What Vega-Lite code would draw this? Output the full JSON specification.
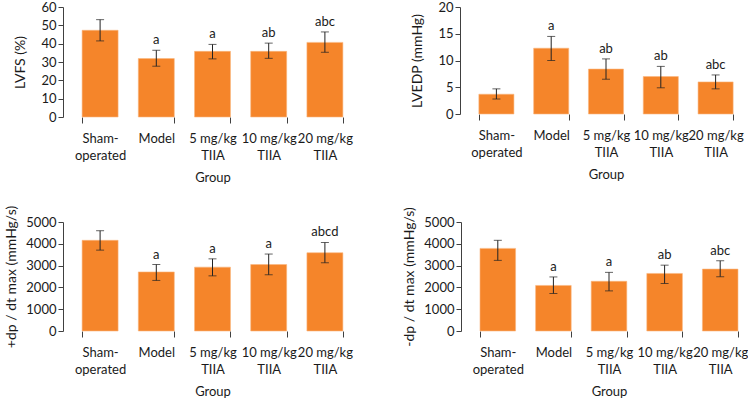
{
  "$schema": "https://vega.github.io/schema/vega-lite/v6.json",
  "background": "white",
  "padding": {"left": 4, "top": 1, "right": 0, "bottom": 0},
  "config": {
    "font": "Lato",
    "view": {"stroke": null},
    "axis": {"labelFont": "Lato", "titleFont": "Lato", "labelFontSize": 13, "titleFontSize": 13, "titleFontWeight": "normal", "labelColor": "#1a1a1a", "titleColor": "#1a1a1a", "domainColor": "#404040", "tickColor": "#404040", "grid": false},
    "axisX": {"labelAngle": 0, "labelExpr": "isValid(datum.value) ? split(datum.value, '|') : ''", "labelLineHeight": 17, "labelPadding": 9, "domain": false, "tickSize": 6, "tickBand": "extent", "titlePadding": 9, "tickColor": {"condition": {"test": "datum.value === 'Sham-|operated'", "value": "transparent"}, "value": "#404040"}},
    "axisY": {"tickSize": 5, "format": "d", "titleFontSize": 14}
  },
  "datasets": {
    "lvfs": [
      {"group": "Sham-|operated", "mean": 47.3, "lo": 41.5, "hi": 53.1, "sig": ""},
      {"group": "Model", "mean": 31.9, "lo": 27.7, "hi": 36.4, "sig": "a"},
      {"group": "5 mg/kg|TIIA", "mean": 35.8, "lo": 31.7, "hi": 39.6, "sig": "a"},
      {"group": "10 mg/kg|TIIA", "mean": 35.8, "lo": 32.0, "hi": 40.3, "sig": "ab"},
      {"group": "20 mg/kg|TIIA", "mean": 40.7, "lo": 35.3, "hi": 46.4, "sig": "abc"}
    ],
    "lvedp": [
      {"group": "Sham-|operated", "mean": 3.7, "lo": 2.8, "hi": 4.7, "sig": ""},
      {"group": "Model", "mean": 12.3, "lo": 10.0, "hi": 14.5, "sig": "a"},
      {"group": "5 mg/kg|TIIA", "mean": 8.4, "lo": 6.5, "hi": 10.3, "sig": "ab"},
      {"group": "10 mg/kg|TIIA", "mean": 7.0, "lo": 4.9, "hi": 8.9, "sig": "ab"},
      {"group": "20 mg/kg|TIIA", "mean": 6.0, "lo": 4.7, "hi": 7.3, "sig": "abc"}
    ],
    "plus": [
      {"group": "Sham-|operated", "mean": 4160, "lo": 3710, "hi": 4600, "sig": ""},
      {"group": "Model", "mean": 2710, "lo": 2320, "hi": 3050, "sig": "a"},
      {"group": "5 mg/kg|TIIA", "mean": 2930, "lo": 2530, "hi": 3310, "sig": "a"},
      {"group": "10 mg/kg|TIIA", "mean": 3050, "lo": 2580, "hi": 3530, "sig": "a"},
      {"group": "20 mg/kg|TIIA", "mean": 3590, "lo": 3130, "hi": 4060, "sig": "abcd"}
    ],
    "minus": [
      {"group": "Sham-|operated", "mean": 3790, "lo": 3240, "hi": 4160, "sig": ""},
      {"group": "Model", "mean": 2090, "lo": 1720, "hi": 2480, "sig": "a"},
      {"group": "5 mg/kg|TIIA", "mean": 2280, "lo": 1840, "hi": 2690, "sig": "a"},
      {"group": "10 mg/kg|TIIA", "mean": 2640, "lo": 2180, "hi": 3020, "sig": "ab"},
      {"group": "20 mg/kg|TIIA", "mean": 2840, "lo": 2490, "hi": 3220, "sig": "abc"}
    ]
  },
  "spacing": 21,
  "vconcat": [
    {
      "spacing": 57,
      "hconcat": [
        {
          "width": 290, "height": 110,
          "data": {"name": "lvfs"},
          "encoding": {
            "x": {"field": "group", "type": "nominal", "sort": null, "title": "Group",
                  "scale": {"range": [9, 290], "paddingInner": 0.36, "paddingOuter": 0.18}}
          },
          "layer": [
            {"mark": {"type": "bar", "color": "#F5852A", "stroke": "#FAB77F", "strokeWidth": 0.6},
             "encoding": {"y": {"field": "mean", "type": "quantitative", "title": "LVFS (%)", "scale": {"domain": [0, 60], "nice": false}, "axis": {"values": [0, 10, 20, 30, 40, 50, 60], "titlePadding": 13}}}},
            {"mark": {"type": "rule", "color": "#404040", "strokeWidth": 1}, "encoding": {"y": {"datum": 0, "type": "quantitative", "title": "LVFS (%)", "scale": {"domain": [0, 60], "nice": false}, "axis": {"values": [0, 10, 20, 30, 40, 50, 60], "titlePadding": 13}}}},
            {"mark": {"type": "rule", "color": "#222222", "strokeWidth": 1}, "encoding": {"y": {"field": "lo", "type": "quantitative", "title": "LVFS (%)", "scale": {"domain": [0, 60], "nice": false}, "axis": {"values": [0, 10, 20, 30, 40, 50, 60], "titlePadding": 13}}, "y2": {"field": "hi"}}},
            {"mark": {"type": "tick", "color": "#222222", "size": 8, "thickness": 1}, "encoding": {"y": {"field": "lo", "type": "quantitative", "title": "LVFS (%)", "scale": {"domain": [0, 60], "nice": false}, "axis": {"values": [0, 10, 20, 30, 40, 50, 60], "titlePadding": 13}}}},
            {"mark": {"type": "tick", "color": "#222222", "size": 8, "thickness": 1}, "encoding": {"y": {"field": "hi", "type": "quantitative", "title": "LVFS (%)", "scale": {"domain": [0, 60], "nice": false}, "axis": {"values": [0, 10, 20, 30, 40, 50, 60], "titlePadding": 13}}}},
            {"mark": {"type": "text", "baseline": "bottom", "dy": -3, "fontSize": 13, "color": "#1a1a1a"}, "encoding": {"y": {"field": "hi", "type": "quantitative", "title": "LVFS (%)", "scale": {"domain": [0, 60], "nice": false}, "axis": {"values": [0, 10, 20, 30, 40, 50, 60], "titlePadding": 13}}, "text": {"field": "sig"}}}
          ]
        },
        {
          "width": 283, "height": 107,
          "data": {"name": "lvedp"},
          "encoding": {
            "x": {"field": "group", "type": "nominal", "sort": null, "title": "Group",
                  "scale": {"range": [9, 283], "paddingInner": 0.36, "paddingOuter": 0.18}}
          },
          "layer": [
            {"mark": {"type": "bar", "color": "#F5852A", "stroke": "#FAB77F", "strokeWidth": 0.6},
             "encoding": {"y": {"field": "mean", "type": "quantitative", "title": "LVEDP (mmHg)", "scale": {"domain": [0, 20], "nice": false}, "axis": {"values": [0, 5, 10, 15, 20], "titlePadding": 13}}}},
            {"mark": {"type": "rule", "color": "#404040", "strokeWidth": 1}, "encoding": {"y": {"datum": 0, "type": "quantitative", "title": "LVEDP (mmHg)", "scale": {"domain": [0, 20], "nice": false}, "axis": {"values": [0, 5, 10, 15, 20], "titlePadding": 13}}}},
            {"mark": {"type": "rule", "color": "#222222", "strokeWidth": 1}, "encoding": {"y": {"field": "lo", "type": "quantitative", "title": "LVEDP (mmHg)", "scale": {"domain": [0, 20], "nice": false}, "axis": {"values": [0, 5, 10, 15, 20], "titlePadding": 13}}, "y2": {"field": "hi"}}},
            {"mark": {"type": "tick", "color": "#222222", "size": 8, "thickness": 1}, "encoding": {"y": {"field": "lo", "type": "quantitative", "title": "LVEDP (mmHg)", "scale": {"domain": [0, 20], "nice": false}, "axis": {"values": [0, 5, 10, 15, 20], "titlePadding": 13}}}},
            {"mark": {"type": "tick", "color": "#222222", "size": 8, "thickness": 1}, "encoding": {"y": {"field": "hi", "type": "quantitative", "title": "LVEDP (mmHg)", "scale": {"domain": [0, 20], "nice": false}, "axis": {"values": [0, 5, 10, 15, 20], "titlePadding": 13}}}},
            {"mark": {"type": "text", "baseline": "bottom", "dy": -3, "fontSize": 13, "color": "#1a1a1a"}, "encoding": {"y": {"field": "hi", "type": "quantitative", "title": "LVEDP (mmHg)", "scale": {"domain": [0, 20], "nice": false}, "axis": {"values": [0, 5, 10, 15, 20], "titlePadding": 13}}, "text": {"field": "sig"}}}
          ]
        }
      ]
    },
    {
      "spacing": 49,
      "hconcat": [
        {
          "width": 290, "height": 109,
          "data": {"name": "plus"},
          "encoding": {
            "x": {"field": "group", "type": "nominal", "sort": null, "title": "Group",
                  "scale": {"range": [9, 290], "paddingInner": 0.36, "paddingOuter": 0.18}}
          },
          "layer": [
            {"mark": {"type": "bar", "color": "#F5852A", "stroke": "#FAB77F", "strokeWidth": 0.6},
             "encoding": {"y": {"field": "mean", "type": "quantitative", "title": "+dp / dt max (mmHg/s)", "scale": {"domain": [0, 5000], "nice": false}, "axis": {"values": [0, 1000, 2000, 3000, 4000, 5000], "titlePadding": 7}}}},
            {"mark": {"type": "rule", "color": "#404040", "strokeWidth": 1}, "encoding": {"y": {"datum": 0, "type": "quantitative", "title": "+dp / dt max (mmHg/s)", "scale": {"domain": [0, 5000], "nice": false}, "axis": {"values": [0, 1000, 2000, 3000, 4000, 5000], "titlePadding": 7}}}},
            {"mark": {"type": "rule", "color": "#222222", "strokeWidth": 1}, "encoding": {"y": {"field": "lo", "type": "quantitative", "title": "+dp / dt max (mmHg/s)", "scale": {"domain": [0, 5000], "nice": false}, "axis": {"values": [0, 1000, 2000, 3000, 4000, 5000], "titlePadding": 7}}, "y2": {"field": "hi"}}},
            {"mark": {"type": "tick", "color": "#222222", "size": 8, "thickness": 1}, "encoding": {"y": {"field": "lo", "type": "quantitative", "title": "+dp / dt max (mmHg/s)", "scale": {"domain": [0, 5000], "nice": false}, "axis": {"values": [0, 1000, 2000, 3000, 4000, 5000], "titlePadding": 7}}}},
            {"mark": {"type": "tick", "color": "#222222", "size": 8, "thickness": 1}, "encoding": {"y": {"field": "hi", "type": "quantitative", "title": "+dp / dt max (mmHg/s)", "scale": {"domain": [0, 5000], "nice": false}, "axis": {"values": [0, 1000, 2000, 3000, 4000, 5000], "titlePadding": 7}}}},
            {"mark": {"type": "text", "baseline": "bottom", "dy": -3, "fontSize": 13, "color": "#1a1a1a"}, "encoding": {"y": {"field": "hi", "type": "quantitative", "title": "+dp / dt max (mmHg/s)", "scale": {"domain": [0, 5000], "nice": false}, "axis": {"values": [0, 1000, 2000, 3000, 4000, 5000], "titlePadding": 7}}, "text": {"field": "sig"}}}
          ]
        },
        {
          "width": 287, "height": 109,
          "data": {"name": "minus"},
          "encoding": {
            "x": {"field": "group", "type": "nominal", "sort": null, "title": "Group",
                  "scale": {"range": [9, 287], "paddingInner": 0.36, "paddingOuter": 0.18}}
          },
          "layer": [
            {"mark": {"type": "bar", "color": "#F5852A", "stroke": "#FAB77F", "strokeWidth": 0.6},
             "encoding": {"y": {"field": "mean", "type": "quantitative", "title": "-dp / dt max (mmHg/s)", "scale": {"domain": [0, 5000], "nice": false}, "axis": {"values": [0, 1000, 2000, 3000, 4000, 5000], "titlePadding": 7}}}},
            {"mark": {"type": "rule", "color": "#404040", "strokeWidth": 1}, "encoding": {"y": {"datum": 0, "type": "quantitative", "title": "-dp / dt max (mmHg/s)", "scale": {"domain": [0, 5000], "nice": false}, "axis": {"values": [0, 1000, 2000, 3000, 4000, 5000], "titlePadding": 7}}}},
            {"mark": {"type": "rule", "color": "#222222", "strokeWidth": 1}, "encoding": {"y": {"field": "lo", "type": "quantitative", "title": "-dp / dt max (mmHg/s)", "scale": {"domain": [0, 5000], "nice": false}, "axis": {"values": [0, 1000, 2000, 3000, 4000, 5000], "titlePadding": 7}}, "y2": {"field": "hi"}}},
            {"mark": {"type": "tick", "color": "#222222", "size": 8, "thickness": 1}, "encoding": {"y": {"field": "lo", "type": "quantitative", "title": "-dp / dt max (mmHg/s)", "scale": {"domain": [0, 5000], "nice": false}, "axis": {"values": [0, 1000, 2000, 3000, 4000, 5000], "titlePadding": 7}}}},
            {"mark": {"type": "tick", "color": "#222222", "size": 8, "thickness": 1}, "encoding": {"y": {"field": "hi", "type": "quantitative", "title": "-dp / dt max (mmHg/s)", "scale": {"domain": [0, 5000], "nice": false}, "axis": {"values": [0, 1000, 2000, 3000, 4000, 5000], "titlePadding": 7}}}},
            {"mark": {"type": "text", "baseline": "bottom", "dy": -3, "fontSize": 13, "color": "#1a1a1a"}, "encoding": {"y": {"field": "hi", "type": "quantitative", "title": "-dp / dt max (mmHg/s)", "scale": {"domain": [0, 5000], "nice": false}, "axis": {"values": [0, 1000, 2000, 3000, 4000, 5000], "titlePadding": 7}}, "text": {"field": "sig"}}}
          ]
        }
      ]
    }
  ]
}
